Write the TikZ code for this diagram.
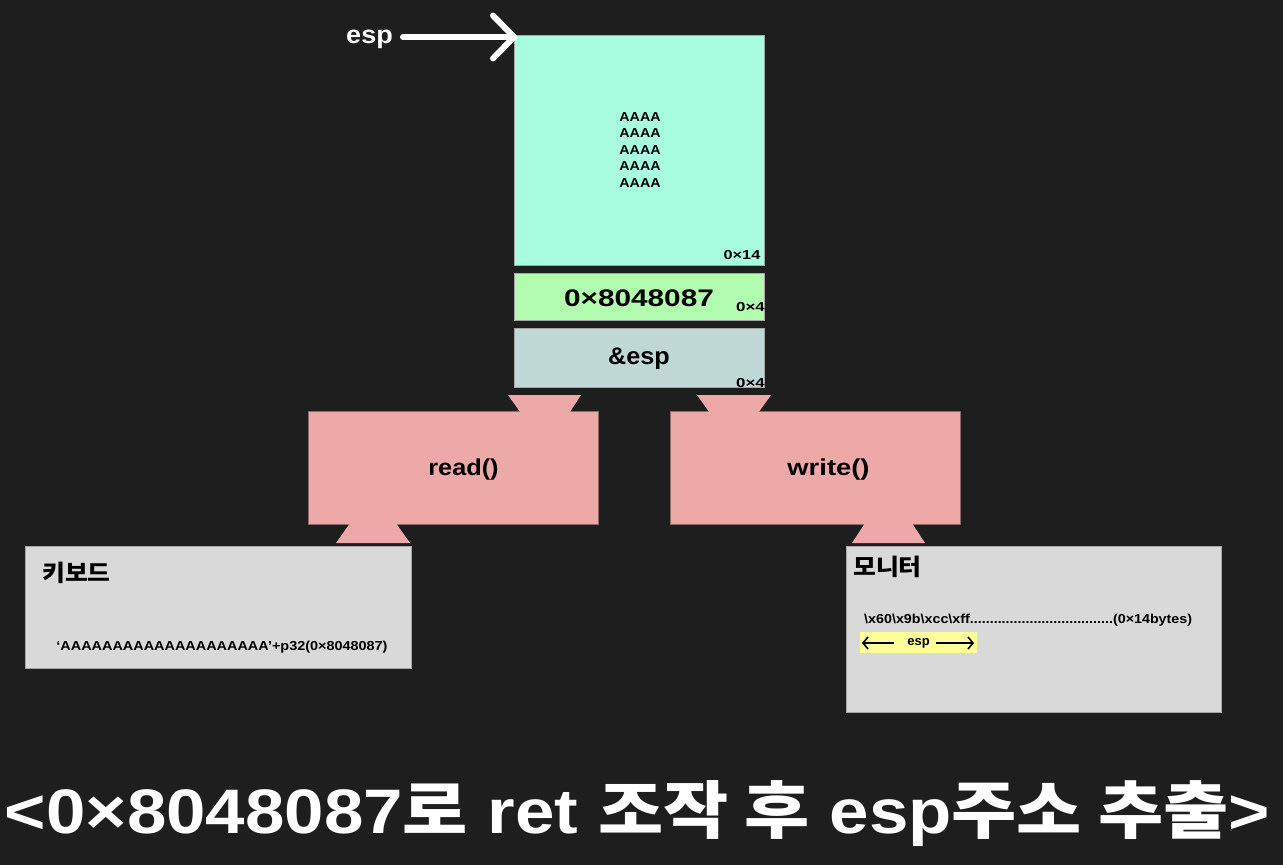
\documentclass[tikz,border=0pt]{standalone}
\usepackage{fontspec}
\setmainfont{Liberation Sans}
\newfontfamily\kr{Noto Sans CJK KR}
\usetikzlibrary{arrows.meta}
\definecolor{bg}{HTML}{1E1E1E}
\definecolor{teal1}{HTML}{A8FDE0}
\definecolor{green1}{HTML}{B2FCB0}
\definecolor{gteal}{HTML}{BFD8D5}
\definecolor{pink1}{HTML}{EDA8A8}
\definecolor{pinkedge}{HTML}{8A6A6A}
\definecolor{lgray}{HTML}{D9D9D9}
\definecolor{yel}{HTML}{FFFF99}
\newcommand{\wx}[2]{\scalebox{#1}[1]{#2}}
\tikzset{
  box/.style={draw=gray!70, line width=1pt, inner sep=0pt, outer sep=0pt},
  pinkbox/.style={fill=pink1, draw=pinkedge, line width=0.8pt, inner sep=0pt, outer sep=0pt, minimum width=290pt, minimum height=113pt},
  lbl/.style={font=\bfseries, text=black, inner sep=0pt},
  tiny/.style={font=\bfseries\fontsize{13}{13}\selectfont, text=black, inner sep=0pt},
}
\begin{document}
\begin{tikzpicture}[x=1pt,y=-1pt]
\fill[bg] (0,0) rectangle (1283,865);
\useasboundingbox (0,0) rectangle (1283,865);

% stack
\node[box, fill=teal1, minimum width=250pt, minimum height=230pt] (stack1) at (639,150) {};
\node[box, fill=green1, minimum width=250pt, minimum height=47pt] (stack2) at (639,296.5) {};
\node[box, fill=gteal, minimum width=250pt, minimum height=59pt] (stack3) at (639,357.5) {};

\foreach \i/\yy in {1/117,2/133.5,3/150,4/166.5,5/183}
  \node[lbl, font=\bfseries\fontsize{13}{13}\selectfont] (a\i) at (640,\yy) {\wx{1.1}{AAAA}};
\node[tiny] (s1) at (742,255) {\wx{1.25}{0×14}};
\node[lbl, font=\bfseries\fontsize{24}{24}\selectfont] (retaddr) at (639,298.5) {\wx{1.24}{0×8048087}};
\node[tiny] (s2) at (750.5,307) {\wx{1.3}{0×4}};
\node[lbl, font=\bfseries\fontsize{24}{24}\selectfont] (esptxt) at (639,359) {\wx{1.05}{\&esp}};
\node[tiny] (s3) at (750.5,383) {\wx{1.3}{0×4}};

% esp pointer
\node[font=\bfseries\fontsize{25}{25}\selectfont, text=white, inner sep=0pt] (esplbl) at (369.5,39) {\wx{1.08}{esp}};
\coordinate (esptail) at (403,37);
\coordinate (esptip) at (514,37);
\coordinate (barbA) at (493,15.5);
\coordinate (barbB) at (493,58.5);
\draw[white, line width=6pt, line cap=round] (esptail) -- (esptip);
\draw[white, line width=6pt, line cap=round, line join=round] (barbA) -- (esptip) -- (barbB);

% read / write
\node[pinkbox] (read) at (453.5,467.5) {};
\node[pinkbox] (write) at (815,467.5) {};
\fill[pink1] (508,395) -- (581,395) -- (570,411.8) -- (520,411.8) -- cycle;
\fill[pink1] (350,523.2) -- (396,523.2) -- (410,543) -- (336,543) -- cycle;
\fill[pink1] (697,395) -- (771,395) -- (759,411.8) -- (709,411.8) -- cycle;
\fill[pink1] (865,523.2) -- (912,523.2) -- (925,543) -- (852,543) -- cycle;
\node[lbl, font=\bfseries\fontsize{23}{23}\selectfont] (readtxt) at (463.5,469.5) {\wx{1.1}{read()}};
\node[lbl, font=\bfseries\fontsize{23}{23}\selectfont] (writetxt) at (828.5,469.5) {\wx{1.19}{write()}};

% keyboard
\node[box, fill=lgray, minimum width=386pt, minimum height=122pt] (kbd) at (218,607) {};
\node[lbl, font=\kr\bfseries\fontsize{23}{23}\selectfont, anchor=west] (kbdtitle) at (42,573) {\wx{1.08}{키보드}};
\node[lbl, font=\bfseries\fontsize{13}{13}\selectfont] (kbdtxt) at (222,647) {\wx{1.11}{‘AAAAAAAAAAAAAAAAAAAA’+p32(0×8048087)}};

% monitor
\node[box, fill=lgray, minimum width=375pt, minimum height=166pt] (mon) at (1033.5,629) {};
\node[lbl, font=\kr\bfseries\fontsize{23}{23}\selectfont, anchor=west] (montitle) at (853,567) {\wx{1.08}{모니터}};
\node[lbl, font=\bfseries\fontsize{13}{13}\selectfont, anchor=west] (montxt) at (864,620.5) {\wx{1.1}{\textbackslash x60\textbackslash x9b\textbackslash xcc\textbackslash xff....................................(0×14bytes)}};
\node[fill=yel, inner sep=0pt, minimum width=117pt, minimum height=21pt] (hl) at (918.5,642.5) {};
\node[lbl, font=\bfseries\fontsize{13}{13}\selectfont] (hlesp) at (918.5,643) {esp};
\coordinate (hlL) at (862,643);
\coordinate (hlR) at (974,643);
\coordinate (hlLs) at (894,643);
\coordinate (hlRs) at (936,643);
\draw[black, line width=1.6pt, -{Straight Barb[length=5pt,width=12pt]}] (hlLs) -- (hlL);
\draw[black, line width=1.6pt, -{Straight Barb[length=5pt,width=12pt]}] (hlRs) -- (hlR);

% title
\node[text=white, inner sep=0pt, anchor=base] (title) at (637.5,833)
  {\resizebox{1265pt}{53pt}{\bfseries <0×8048087{\kr 로} ret {\kr 조작 후} esp{\kr 주소 추출}>}};
\end{tikzpicture}
\end{document}
